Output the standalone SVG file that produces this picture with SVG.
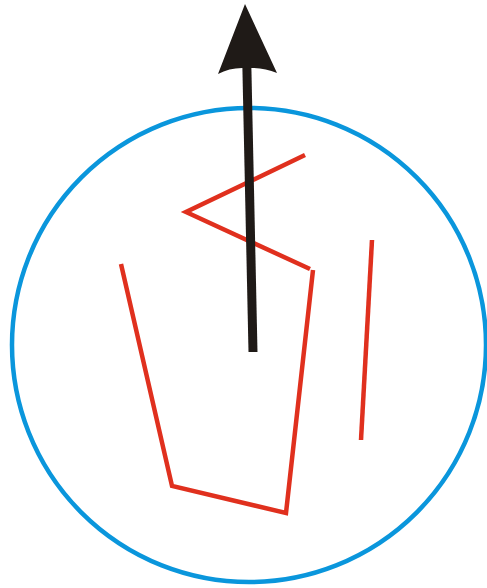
<svg xmlns="http://www.w3.org/2000/svg" width="487" height="588" viewBox="0 0 487 588">
<style>
.red{fill:none;stroke:#e0301e;stroke-width:4.5;stroke-linejoin:miter;stroke-linecap:butt}
</style>
<rect width="487" height="588" fill="#fff"/>
<g id="circle">
<circle cx="249" cy="345" r="237" fill="none" stroke="#0a96dc" stroke-width="4.5"/>
</g>
<g id="red-lines">
<path class="red" d="M305,155 L186,212 L310,269"/>
<path class="red" d="M313,270 L286,513 L172,486 L121,264"/>
<path class="red" d="M372,240 L361,440"/>
</g>
<g id="arrow">
<line x1="253" y1="352" x2="246.5" y2="50" stroke="#1f1a17" stroke-width="9"/>
<path d="M245,4 L277,73 Q265,68 252,68 L242,68 Q229,68 218,74 Z" fill="#1f1a17"/>
</g>
</svg>
